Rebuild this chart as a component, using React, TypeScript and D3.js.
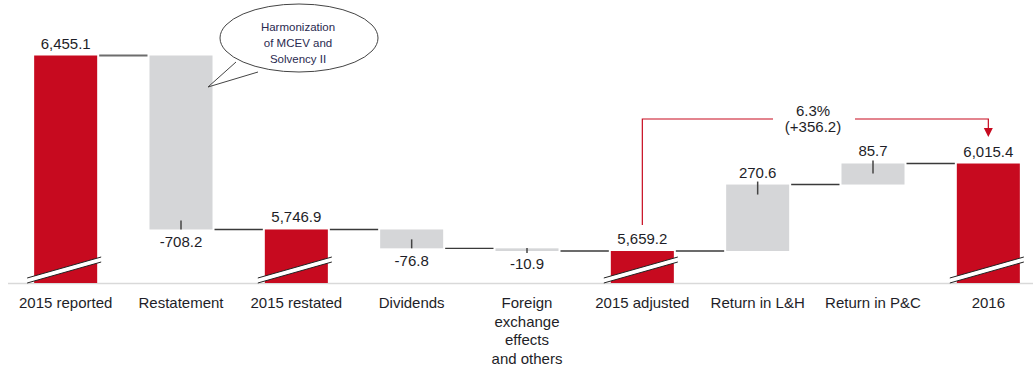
import React from "react";
import * as d3 from "d3";

// Embedded value bridge 2015 → 2016 (€m)
const categories = [
  "2015 reported",
  "Restatement",
  "2015 restated",
  "Dividends",
  "Foreign exchange effects and others",
  "2015 adjusted",
  "Return in L&H",
  "Return in P&C",
  "2016",
];
const categoryLines = [
  ["2015 reported"],
  ["Restatement"],
  ["2015 restated"],
  ["Dividends"],
  ["Foreign", "exchange", "effects", "and others"],
  ["2015 adjusted"],
  ["Return in L&H"],
  ["Return in P&C"],
  ["2016"],
];
// "total" bars start from the (broken) axis, "delta" bars float
const kinds = ["total", "delta", "total", "delta", "delta", "total", "delta", "delta", "total"];
const values = [6455.1, -708.2, 5746.9, -76.8, -10.9, 5659.2, 270.6, 85.7, 6015.4];
const valueLabels = ["6,455.1", "-708.2", "5,746.9", "-76.8", "-10.9", "5,659.2", "270.6", "85.7", "6,015.4"];
const changeLabels = ["6.3%", "(+356.2)"];
const noteLines = ["Harmonization", "of MCEV and", "Solvency II"];

const W = 1033;
const H = 367;
const RED = "#c70a1f";
const GREY = "#d5d6d8";
const TEXT = "#1e1e28";
const FONT = "'Liberation Sans', Arial, sans-serif";

export default function App() {
  const x = d3
    .scaleBand<string>()
    .domain(categories)
    .range([8, 1046])
    .paddingInner(0.4536)
    .paddingOuter(0.2268);
  const y = d3.scaleLinear().domain([5529, 6455.1]).range([283, 55.5]);
  const bw = x.bandwidth();

  // running totals for floating bars
  let running = 0;
  const bars = categories.map((c, i) => {
    let start: number, end: number;
    if (kinds[i] === "total") {
      running = values[i];
      start = y.domain()[0];
      end = values[i];
    } else {
      start = running;
      end = running + values[i];
      running = end;
    }
    const lo = Math.min(start, end);
    const hi = Math.max(start, end);
    return { c, i, lo, hi, start, end, x0: x(c)!, kind: kinds[i], v: values[i] };
  });

  const base = y.range()[0];

  const adjIdx = 5;
  const lastIdx = 8;
  const bracketY = 119;
  const bx0 = bars[adjIdx].x0 + bw / 2;
  const bx1 = bars[lastIdx].x0 + bw / 2;
  const textCx = 813;

  return (
    <svg
      width={W}
      height={H}
      style={{ position: "absolute", left: 0, top: 0, background: "#fff" }}
      fontFamily={FONT}
    >
      {/* axis baseline */}
      <line x1={8} x2={W} y1={base + 0.5} y2={base + 0.5} stroke="#d9d9d9" strokeWidth={1.5} />

      {/* connectors between consecutive bars */}
      {bars.slice(0, -1).map((b, k) => {
        const next = bars[k + 1];
        const yy = y(b.end);
        return (
          <line
            key={`c${k}`}
            x1={b.x0 + bw + 2}
            x2={next.x0 - 2}
            y1={yy}
            y2={yy}
            stroke={k === 0 ? "#6d6d6d" : "#3a3a3a"}
            strokeWidth={k === 0 ? 2 : 1.4}
          />
        );
      })}

      {/* bars */}
      {bars.map((b) => (
        <rect
          key={`b${b.i}`}
          x={b.x0}
          y={y(b.hi)}
          width={bw}
          height={Math.max(y(b.lo) - y(b.hi), 2)}
          fill={b.kind === "total" ? RED : GREY}
        />
      ))}

      {/* axis break marks on total bars */}
      {bars
        .filter((b) => b.kind === "total")
        .map((b) => {
          const l = b.x0 - 7;
          const r = b.x0 + bw + 4;
          const yl = base - 5;
          const yr = base - 26;
          const g = 5;
          return (
            <g key={`k${b.i}`}>
              <polygon points={`${l},${yl} ${r},${yr} ${r},${yr + g} ${l},${yl + g}`} fill="#fff" />
              <line x1={l} y1={yl} x2={r} y2={yr} stroke="#222" strokeWidth={1} />
              <line x1={l} y1={yl + g} x2={r} y2={yr + g} stroke="#222" strokeWidth={1} />
            </g>
          );
        })}

      {/* value ticks inside delta bars */}
      {bars
        .filter((b) => b.kind === "delta")
        .map((b) => {
          const cx = b.x0 + bw / 2;
          if (b.v < 0) {
            const yb = y(b.lo);
            const len = Math.min(9, Math.max(y(b.lo) - y(b.hi), 3));
            return (
              <line key={`t${b.i}`} x1={cx} x2={cx} y1={yb - len} y2={b.v > -20 ? yb + 2 : yb} stroke="#444" strokeWidth={1.5} />
            );
          }
          const yt = y(b.hi);
          return <line key={`t${b.i}`} x1={cx} x2={cx} y1={yt - 3} y2={yt + 10} stroke="#444" strokeWidth={1.5} />;
        })}

      {/* value labels */}
      {bars.map((b) => {
        const cx = b.x0 + bw / 2;
        const yy = b.v < 0 ? y(b.lo) + 18 : y(b.hi) - 7;
        return (
          <text key={`v${b.i}`} x={cx} y={yy} textAnchor="middle" fontSize={15} fill={TEXT}>
            {valueLabels[b.i]}
          </text>
        );
      })}

      {/* category labels */}
      {bars.map((b) => (
        <text key={`l${b.i}`} x={b.x0 + bw / 2} y={308} textAnchor="middle" fontSize={15} fill={TEXT}>
          {categoryLines[b.i].map((ln, j) => (
            <tspan key={j} x={b.x0 + bw / 2} dy={j === 0 ? 0 : 18.5}>
              {ln}
            </tspan>
          ))}
        </text>
      ))}

      {/* change bracket from 2015 adjusted to 2016 */}
      <path
        d={`M${bx0},${y(values[adjIdx]) - 26} V${bracketY} H${textCx - 40}`}
        fill="none"
        stroke={RED}
        strokeWidth={1.2}
      />
      <path d={`M${textCx + 42},${bracketY} H${bx1} V${129}`} fill="none" stroke={RED} strokeWidth={1.2} />
      <polygon points={`${bx1 - 4.5},${128} ${bx1 + 4.5},${128} ${bx1},${137}`} fill={RED} />
      <text x={textCx} y={116} textAnchor="middle" fontSize={15} fill={TEXT}>
        {changeLabels[0]}
      </text>
      <text x={textCx} y={132} textAnchor="middle" fontSize={15} fill={TEXT}>
        {changeLabels[1]}
      </text>

      {/* speech bubble note */}
      <g>
        <ellipse cx={299} cy={38} rx={79} ry={34} fill="#fff" stroke="#444" strokeWidth={1} />
        <path d={`M237,61 L210,85.5 L257,71`} fill="#fff" stroke="none" />
        <path d={`M236,62 L208,87 L258,72`} fill="none" stroke="#444" strokeWidth={1} />
        {noteLines.map((t, j) => (
          <text key={j} x={298} y={31 + j * 16} textAnchor="middle" fontSize={11.5} fill="#2a2a50">
            {t}
          </text>
        ))}
      </g>
    </svg>
  );
}
